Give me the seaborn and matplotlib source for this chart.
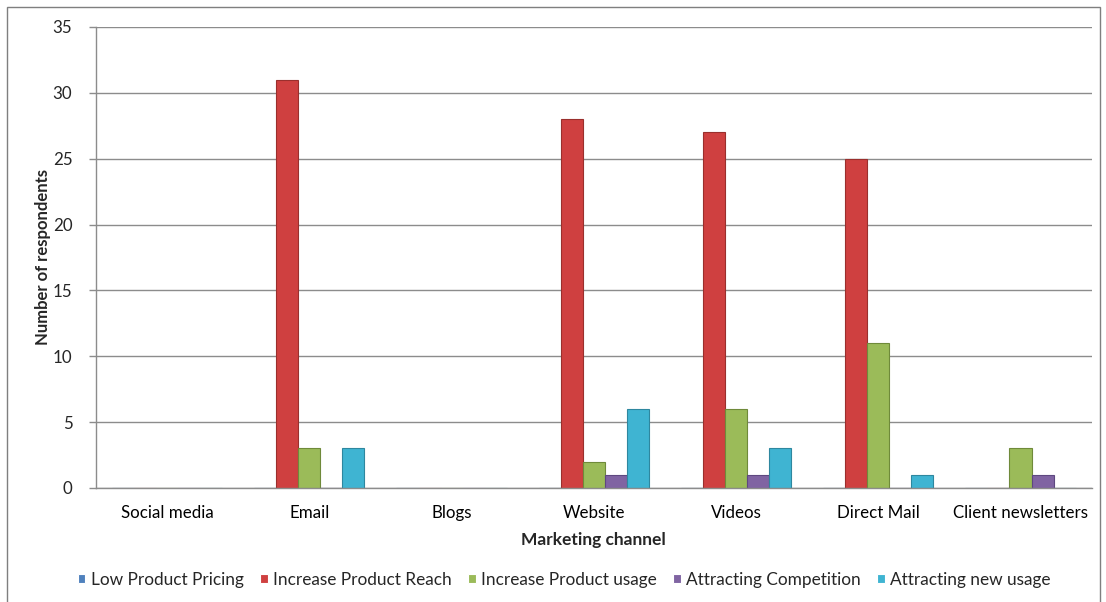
import matplotlib
matplotlib.use("Agg")
import matplotlib.pyplot as plt
import seaborn as sns
import pandas as pd
import numpy as np
from matplotlib.patches import Rectangle

channels = ["Social media", "Email", "Blogs", "Website", "Videos", "Direct Mail", "Client newsletters"]
series = ["Low Product Pricing", "Increase Product Reach", "Increase Product usage",
          "Attracting Competition", "Attracting new usage"]
low_pricing = [0, 0, 0, 0, 0, 0, 0]
product_reach = [0, 31, 0, 28, 27, 25, 0]
product_usage = [0, 3, 0, 2, 6, 11, 3]
competition = [0, 0, 0, 1, 1, 0, 1]
new_usage = [0, 3, 0, 6, 3, 1, 0]
colors = ["#4F81BD", "#CF4040", "#9BBB59", "#8064A2", "#3FB4D2"]
edge_colors = ["#3A6491", "#9A2F2D", "#6F8A3A", "#5E4880", "#2E879F"]

rows = []
for s, vals in zip(series, [low_pricing, product_reach, product_usage, competition, new_usage]):
    for c, v in zip(channels, vals):
        rows.append({"Marketing channel": c, "Series": s, "Value": v})
df = pd.DataFrame(rows)

sns.set_theme(style="white")
plt.rcParams["font.family"] = ["Lato", "DejaVu Sans"]

fig = plt.figure(figsize=(11.06, 6.02), dpi=100)
ax = fig.add_axes([0.0868, 0.1894, 0.9002, 0.7658])

sns.barplot(data=df, x="Marketing channel", y="Value", hue="Series",
            order=channels, hue_order=series, palette=colors,
            width=0.775, gap=0, errorbar=None, ax=ax, saturation=1,
            linewidth=0.8)

for cont, ec in zip(ax.containers, edge_colors):
    for p in cont:
        p.set_edgecolor(ec)

ax.set_ylim(0, 35)
ax.set_xlim(-0.5, 6.5)
ax.set_yticks(np.arange(0, 36, 5))
ax.yaxis.grid(True, color="#8C8C8C", linewidth=1.0)
ax.set_axisbelow(True)

for side in ["top", "right"]:
    ax.spines[side].set_visible(False)
for side in ["left", "bottom"]:
    ax.spines[side].set_color("#8C8C8C")
    ax.spines[side].set_linewidth(1.0)

ax.set_xticks(np.arange(-0.5, 7, 1.0), minor=True)
ax.tick_params(axis="x", which="major", length=0, pad=12, labelsize=12.2, colors="#000000")
ax.tick_params(axis="x", which="minor", length=5, color="#8C8C8C", width=1, direction="out")
ax.tick_params(axis="y", which="major", length=5, color="#8C8C8C", width=1, direction="out",
               labelsize=12.2, pad=12, left=True)

ax.set_xlabel("Marketing channel", fontsize=12.5, fontweight="bold", labelpad=8)
ax.set_ylabel("Number of respondents", fontsize=12, fontweight="bold", labelpad=1)

handles, labels = ax.get_legend_handles_labels()
leg = ax.legend(handles, labels, loc="center", bbox_to_anchor=(564 / 1106, 1 - 580 / 602),
                bbox_transform=fig.transFigure, ncol=5, frameon=False, fontsize=12.4,
                handlelength=0.45, handleheight=0.45, handletextpad=0.3, columnspacing=0.95,
                borderpad=0)

fig.patches.append(Rectangle((7 / 1106, -0.01), 1093 / 1106, 1 - 7 / 602 + 0.01,
                             transform=fig.transFigure, fill=False,
                             edgecolor="#7F7F7F", linewidth=1.0))

fig.savefig("out.png", dpi=100)
